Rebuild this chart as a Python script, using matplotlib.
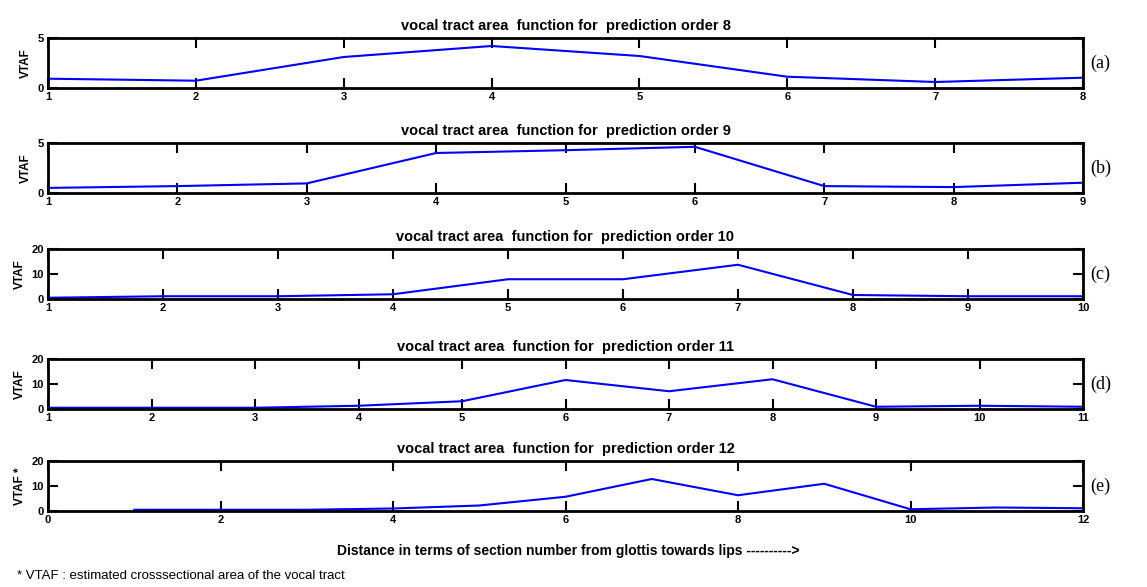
import matplotlib
matplotlib.use('Agg')
import matplotlib.pyplot as plt

# vocal tract area function estimates, one list per prediction order
orders = [8, 9, 10, 11, 12]
panel_tags = ['(a)', '(b)', '(c)', '(d)', '(e)']
vtaf_8 = [0.93, 0.73, 3.1, 4.2, 3.2, 1.13, 0.6, 1.03]
vtaf_9 = [0.51, 0.69, 0.96, 4.0, 4.28, 4.62, 0.69, 0.59, 1.03]
vtaf_10 = [0.5, 1.1, 1.1, 1.9, 7.9, 7.9, 13.7, 1.6, 1.1, 1.1]
vtaf_11 = [0.5, 0.5, 0.5, 1.3, 3.1, 11.6, 7.1, 11.9, 0.9, 1.3, 0.9]
vtaf_12 = [0.5, 0.5, 0.5, 1.0, 2.2, 5.7, 12.8, 6.3, 10.9, 0.7, 1.4, 1.1]
series = [vtaf_8, vtaf_9, vtaf_10, vtaf_11, vtaf_12]
ymax = [5, 5, 20, 20, 20]

plt.rcParams['font.family'] = ['Liberation Sans', 'DejaVu Sans']

fig = plt.figure(figsize=(11.47, 5.87), dpi=100)
W, H = 1147.0, 587.0
left, right = 48, 1083
bottoms = [88, 193, 299, 409, 511]
ax_h = 50

for i, (order, vals) in enumerate(zip(orders, series)):
    ax = fig.add_axes([left / W, 1 - bottoms[i] / H, (right - left) / W, ax_h / H])
    x = list(range(1, len(vals) + 1))
    ax.plot(x, vals, color='#0000ff', lw=1.5)
    if order == 12:
        ax.set_xlim(0, 12)
        ax.set_xticks(range(0, 13, 2))
    else:
        ax.set_xlim(1, order)
        ax.set_xticks(x)
    ax.set_ylim(0, ymax[i])
    if ymax[i] == 5:
        ax.set_yticks([0, 5])
    else:
        ax.set_yticks([0, 10, 20])
    ax.tick_params(direction='in', length=7, width=1.5, top=True, right=True,
                   labelsize=8, pad=3)
    for lab in ax.get_xticklabels() + ax.get_yticklabels():
        lab.set_fontweight('bold')
    for sp in ax.spines.values():
        sp.set_linewidth(2)
    ax.set_title('vocal tract area  function for  prediction order %d' % order,
                 fontsize=10.5, fontweight='bold', pad=6)
    ylab = 'VTAF *' if order == 12 else 'VTAF'
    ax.set_ylabel(ylab, fontsize=8.5, fontweight='bold', labelpad=4)
    fig.text(1090 / W, 1 - (bottoms[i] - ax_h / 2) / H, panel_tags[i],
             family='Liberation Serif', fontsize=13, va='center', ha='left')

fig.text(568 / W, 1 - 551 / H,
         'Distance in terms of section number from glottis towards lips ---------->',
         fontsize=10, fontweight='bold', ha='center', va='center')
fig.text(17 / W, 1 - 576 / H,
         '* VTAF : estimated crosssectional area of the vocal tract',
         fontsize=9.5, ha='left', va='center')

fig.savefig('out.png', dpi=100)
